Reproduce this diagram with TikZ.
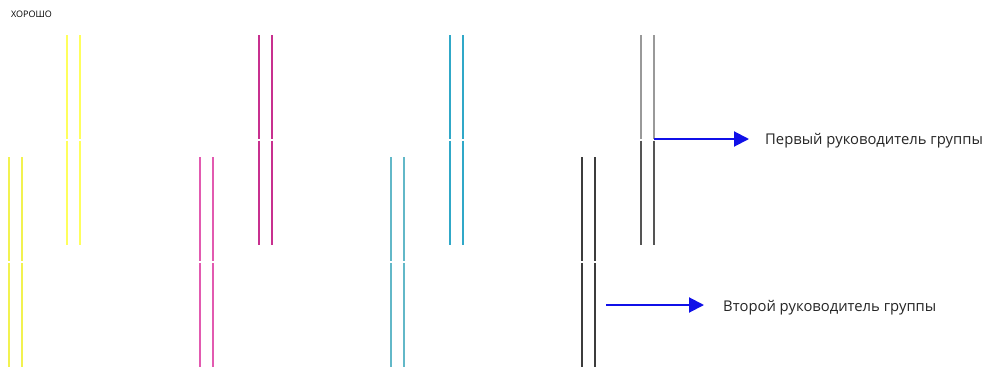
\documentclass[tikz,border=0pt]{standalone}
\usepackage{fontspec}
\setmainfont{Open Sans}
\usetikzlibrary{arrows.meta}
\definecolor{yelA}{HTML}{FFFF5C}
\definecolor{magA}{HTML}{C8308F}
\definecolor{cyaA}{HTML}{30A8C8}
\definecolor{gryA}{HTML}{999999}
\definecolor{gryB}{HTML}{555555}
\definecolor{yelB}{HTML}{F2F250}
\definecolor{magB}{HTML}{E25AB0}
\definecolor{cyaB}{HTML}{62B8C8}
\definecolor{blkB}{HTML}{3C3C3C}
\definecolor{arrblue}{HTML}{1010E8}
\begin{document}
\begin{tikzpicture}[x=1pt,y=-1pt,
  barline/.style={line width=2pt},
  pointer/.style={draw=arrblue,line width=2pt,-{Triangle[length=15pt,width=15pt]}},
  label/.style={anchor=west,inner sep=0pt,font=\fontsize{14.8}{17}\selectfont,text=black!85}]
\useasboundingbox[fill=white] (0,0) rectangle (991,367);
\node[anchor=west,inner sep=0pt,font=\fontsize{9}{11}\selectfont] (title) at (11,14) {ХОРОШО};
% top row
\foreach \xa/\xb/\cc in {67/80/yelA,259/272/magA,450/463/cyaA}{
  \draw[barline,\cc] (\xa,35) -- (\xa,138.5);
  \draw[barline,\cc] (\xa,140.5) -- (\xa,245);
  \draw[barline,\cc] (\xb,35) -- (\xb,138.5);
  \draw[barline,\cc] (\xb,140.5) -- (\xb,245);
}
\foreach \xa in {641,654}{
  \draw[barline,gryA] (\xa,35) -- (\xa,138.5);
  \draw[barline,gryB] (\xa,140.5) -- (\xa,245);
}
% bottom row
\foreach \xa/\xb/\cc in {9/22/yelB,200/213/magB,391/404/cyaB,582/595/blkB}{
  \draw[barline,\cc] (\xa,157) -- (\xa,261);
  \draw[barline,\cc] (\xa,263) -- (\xa,367);
  \draw[barline,\cc] (\xb,157) -- (\xb,261);
  \draw[barline,\cc] (\xb,263) -- (\xb,367);
}
% labels and pointers
\coordinate (s1) at (654,139);
\coordinate (t1) at (749,139);
\node[label] (l1) at (765,141) {Первый руководитель группы};
\draw[pointer] (s1) -- (t1);
\coordinate (s2) at (606,305);
\coordinate (t2) at (704,305);
\node[label] (l2) at (723,308) {Второй руководитель группы};
\draw[pointer] (s2) -- (t2);
\end{tikzpicture}
\end{document}
